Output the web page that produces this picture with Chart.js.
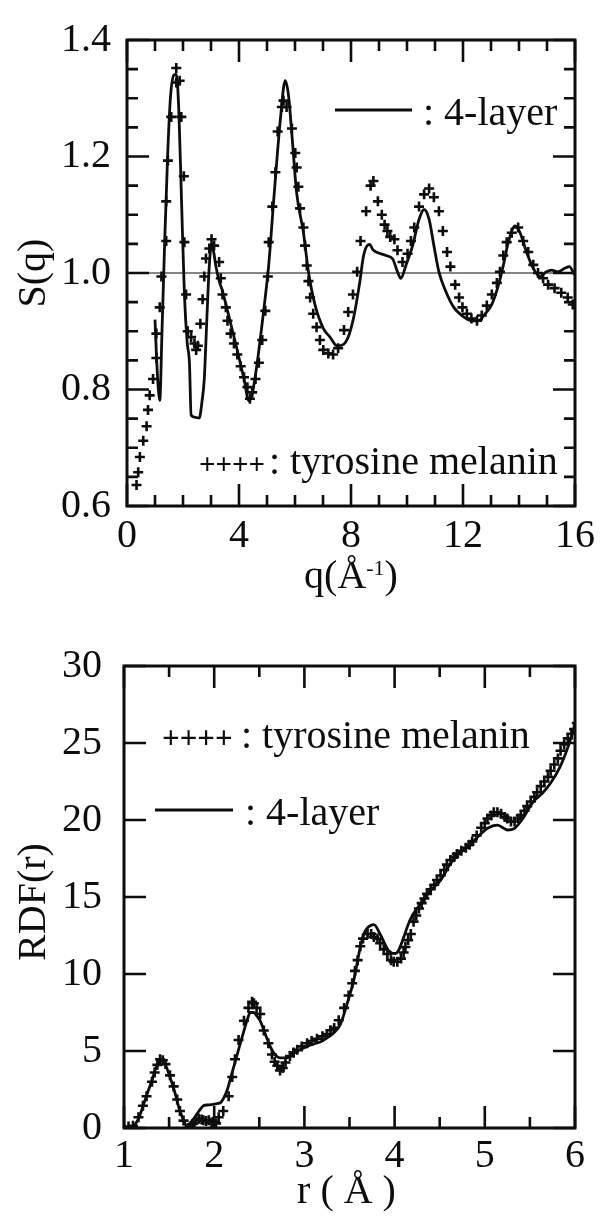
<!DOCTYPE html>
<html>
<head>
<meta charset="utf-8">
<script src="https://cdn.jsdelivr.net/npm/chart.js@4.4.0/dist/chart.umd.min.js"></script>
<style>
  body { margin: 0; background: #fff; }
  canvas { position: absolute; left: 0; }
</style>
</head>
<body>
<canvas id="sqChart" width="601" height="620" style="top:0px"></canvas>
<canvas id="rdfChart" width="601" height="601" style="top:620px"></canvas>
<script>
// ---- S(q) panel ----
// tyrosine melanin (crosses)
var sqMelQ = [0.34,0.40,0.46,0.58,0.70,0.75,0.81,0.93,1.05,1.05,1.17,1.23,1.40,1.40,1.46,1.58,1.76,1.76,1.88,1.94,2.03,2.05,2.11,2.17,2.29,2.41,2.47,2.53,2.62,2.70,2.76,2.82,2.94,3.02,3.11,3.29,3.35,3.41,3.53,3.59,3.70,3.82,3.94,4.06,4.18,4.30,4.39,4.47,4.59,4.71,4.83,4.94,5.03,5.06,5.19,5.30,5.38,5.53,5.59,5.70,5.89,6.01,6.06,6.12,6.18,6.30,6.36,6.42,6.48,6.54,6.65,6.77,6.89,7.01,7.19,7.36,7.54,7.75,7.90,8.07,8.22,8.34,8.54,8.70,8.80,8.96,9.10,9.20,9.30,9.40,9.55,9.66,9.84,10.02,10.14,10.26,10.43,10.61,10.79,10.96,11.14,11.28,11.43,11.55,11.72,11.86,11.98,12.14,12.30,12.50,12.67,12.85,13.03,13.21,13.32,13.44,13.56,13.74,13.97,14.15,14.33,14.51,14.68,14.86,15.04,15.27,15.51,15.74,15.92];
var sqMelS = [0.636,0.658,0.684,0.712,0.737,0.765,0.790,0.818,0.854,0.896,0.941,0.994,1.055,1.123,1.193,1.268,1.327,1.352,1.330,1.268,1.166,1.053,0.963,0.900,0.890,0.879,0.868,0.875,0.913,0.955,0.994,1.025,1.042,1.058,1.047,1.019,0.991,0.963,0.941,0.918,0.896,0.879,0.860,0.840,0.821,0.804,0.784,0.795,0.818,0.846,0.885,0.935,0.994,1.053,1.114,1.173,1.243,1.285,1.296,1.285,1.248,1.206,1.181,1.148,1.111,1.078,1.047,1.013,0.986,0.958,0.930,0.907,0.885,0.868,0.862,0.860,0.871,0.902,0.933,0.963,1.002,1.055,1.106,1.150,1.158,1.123,1.100,1.083,1.072,1.062,1.058,1.039,1.019,1.033,1.055,1.078,1.114,1.135,1.145,1.130,1.106,1.072,1.036,1.011,0.980,0.958,0.941,0.930,0.922,0.918,0.927,0.944,0.963,0.983,1.002,1.030,1.053,1.069,1.078,1.055,1.036,1.014,1.000,0.991,0.980,0.974,0.966,0.958,0.946];
// 4-layer model (solid line)
var sqLayQ = [1.00,1.05,1.12,1.17,1.25,1.35,1.45,1.55,1.68,1.76,1.85,1.95,2.05,2.15,2.23,2.29,2.45,2.58,2.68,2.76,2.86,2.94,3.02,3.10,3.17,3.30,3.41,3.59,3.88,4.18,4.35,4.47,4.65,4.88,5.06,5.24,5.48,5.65,5.77,5.89,6.06,6.30,6.48,6.71,7.01,7.25,7.50,7.72,7.90,8.10,8.30,8.45,8.60,8.67,8.78,8.90,9.25,9.49,9.66,9.78,9.96,10.20,10.43,10.61,10.79,10.96,11.14,11.38,11.67,11.96,12.32,12.55,12.79,13.03,13.27,13.44,13.62,13.86,14.03,14.27,14.51,14.74,14.98,15.16,15.39,15.63,15.80,15.98];
var sqLayS = [0.920,0.860,0.800,0.781,0.900,1.060,1.200,1.300,1.340,1.341,1.280,1.120,0.963,0.880,0.846,0.756,0.752,0.751,0.780,0.818,0.931,1.013,1.050,1.035,1.013,0.985,0.969,0.935,0.879,0.818,0.781,0.792,0.846,0.935,1.013,1.125,1.265,1.330,1.304,1.237,1.137,1.070,1.002,0.946,0.905,0.890,0.875,0.877,0.890,0.925,0.980,1.030,1.048,1.049,1.040,1.036,1.030,1.024,1.002,0.991,1.013,1.047,1.092,1.109,1.092,1.047,1.002,0.969,0.941,0.927,0.918,0.918,0.930,0.946,0.980,1.013,1.053,1.081,1.070,1.036,1.008,0.994,1.002,1.005,1.002,1.008,1.011,0.997];
var sqRefQ = [0, 16];
var sqRefS = [1.0, 1.0];
var sqTicksX = [0, 4, 8, 12, 16];
var sqTicksY = [0.6, 0.8, 1.0, 1.2, 1.4];

// ---- RDF(r) panel ----
var rdfMelR = [1.00,1.05,1.10,1.16,1.21,1.25,1.31,1.34,1.37,1.40,1.43,1.46,1.51,1.55,1.59,1.62,1.66,1.71,1.74,1.77,1.80,1.83,1.86,1.88,1.91,1.94,1.97,1.99,2.02,2.05,2.10,2.16,2.20,2.23,2.27,2.33,2.38,2.42,2.44,2.47,2.51,2.55,2.60,2.64,2.67,2.70,2.73,2.76,2.79,2.84,2.88,2.92,2.97,3.03,3.08,3.14,3.20,3.25,3.29,3.33,3.38,3.44,3.49,3.53,3.56,3.59,3.62,3.65,3.70,3.74,3.77,3.81,3.84,3.88,3.92,3.96,3.99,4.03,4.07,4.10,4.12,4.15,4.18,4.21,4.24,4.27,4.30,4.33,4.36,4.40,4.44,4.47,4.51,4.55,4.58,4.62,4.66,4.69,4.74,4.79,4.83,4.86,4.91,4.96,5.00,5.03,5.07,5.10,5.14,5.18,5.22,5.25,5.29,5.33,5.37,5.40,5.44,5.47,5.51,5.55,5.58,5.62,5.66,5.70,5.73,5.77,5.81,5.84,5.88,5.92,5.96,5.99,6.02];
var rdfMelV = [0.05,0.10,0.15,0.70,1.44,2.06,3.00,3.60,4.10,4.46,4.40,4.15,3.42,2.70,1.85,1.10,0.48,0.00,0.15,0.29,0.50,0.60,0.55,0.50,0.45,0.50,0.35,0.40,0.30,0.70,1.10,2.06,3.31,4.46,5.71,6.96,7.80,8.20,8.10,7.80,7.40,6.33,5.50,4.77,4.30,4.04,3.73,3.90,4.25,4.67,4.90,5.08,5.30,5.50,5.65,5.80,5.95,6.10,6.35,6.50,7.00,7.80,8.60,9.40,10.2,10.9,11.8,12.3,12.6,12.6,12.4,12.3,12.0,11.6,11.3,10.9,10.8,10.8,11.0,11.4,11.75,12.2,12.6,13.4,13.8,14.25,14.6,14.9,15.2,15.5,15.8,16.1,16.4,16.75,17.1,17.4,17.6,17.8,18.0,18.2,18.4,18.6,19.0,19.5,19.8,20.1,20.3,20.5,20.5,20.4,20.2,20.1,19.9,19.9,20.1,20.3,20.6,20.9,21.2,21.5,21.8,22.2,22.5,22.8,23.2,23.6,24.0,24.5,24.9,25.3,25.6,25.9,26.3];
var rdfLayR = [1.00,1.10,1.16,1.21,1.25,1.31,1.36,1.41,1.46,1.51,1.56,1.61,1.66,1.71,1.76,1.81,1.85,1.88,1.94,1.99,2.04,2.07,2.14,2.18,2.23,2.28,2.33,2.37,2.40,2.44,2.47,2.51,2.56,2.62,2.67,2.73,2.81,2.86,2.92,3.03,3.10,3.18,3.25,3.33,3.40,3.47,3.55,3.62,3.66,3.70,3.77,3.84,3.93,4.01,4.05,4.10,4.15,4.20,4.29,4.38,4.51,4.62,4.69,4.80,4.91,5.03,5.14,5.20,5.25,5.33,5.42,5.53,5.64,5.73,5.83,5.92,5.99,6.02];
var rdfLayV = [0.00,0.10,0.60,1.40,2.10,3.10,4.00,4.40,4.10,3.30,2.40,1.30,0.50,0.00,0.50,0.92,1.25,1.44,1.50,1.54,1.60,1.65,2.40,3.20,4.25,5.30,6.33,7.10,7.50,7.50,7.30,6.96,6.20,5.30,4.80,4.56,4.56,4.80,4.98,5.30,5.45,5.60,5.85,6.20,6.75,8.00,9.67,11.75,12.6,13.0,13.2,12.58,11.54,11.33,11.6,12.37,13.2,13.83,14.56,15.3,16.1,17.17,17.7,18.2,18.83,19.46,19.67,19.5,19.35,19.46,20.08,21.13,21.75,22.4,23.4,24.7,26.0,26.5];
var rdfTicksX = [1, 2, 3, 4, 5, 6];
var rdfTicksY = [0, 5, 10, 15, 20, 25, 30];

var INK = '#0d0d0d';
var SERIF = "'Liberation Serif', 'Times New Roman', serif";

function pts(xs, ys) {
  return xs.map(function (x, i) { return { x: x, y: ys[i] }; });
}

// frame plus inward tick marks on all four sides
function frameTicks(xMarks, xMajor, yMarks, yMajor) {
  return {
    id: 'frameTicks',
    afterDatasetsDraw: function (chart) {
      var ctx = chart.ctx, a = chart.chartArea;
      var xs = chart.scales.x, ys = chart.scales.y;
      ctx.save();
      ctx.strokeStyle = INK;
      ctx.lineWidth = 3;
      ctx.strokeRect(a.left, a.top, a.right - a.left, a.bottom - a.top);
      ctx.lineWidth = 2.6;
      ctx.beginPath();
      xMarks.forEach(function (v) {
        var len = xMajor.indexOf(v) >= 0 ? 22 : 11;
        var px = xs.getPixelForValue(v);
        ctx.moveTo(px, a.bottom); ctx.lineTo(px, a.bottom - len);
        ctx.moveTo(px, a.top); ctx.lineTo(px, a.top + len);
      });
      yMarks.forEach(function (v) {
        var len = yMajor.indexOf(v) >= 0 ? 22 : 11;
        var py = ys.getPixelForValue(v);
        ctx.moveTo(a.left, py); ctx.lineTo(a.left + len, py);
        ctx.moveTo(a.right, py); ctx.lineTo(a.right - len, py);
      });
      ctx.stroke();
      ctx.restore();
    }
  };
}

function font(size, weight) { return (weight || '') + ' ' + size + 'px ' + SERIF; }

function yTitle(ctx, text, x, y) {
  ctx.save();
  ctx.translate(x, y);
  ctx.rotate(-Math.PI / 2);
  ctx.font = font(40);
  ctx.textAlign = 'center';
  ctx.textBaseline = 'alphabetic';
  ctx.fillText(text, 0, 0);
  ctx.restore();
}

var sqText = {
  id: 'sqText',
  afterDraw: function (chart) {
    var ctx = chart.ctx, a = chart.chartArea;
    ctx.save();
    ctx.fillStyle = INK;
    ctx.strokeStyle = INK;
    // legend: 4-layer
    ctx.lineWidth = 2.8;
    ctx.beginPath();
    ctx.moveTo(a.left + 208, a.top + 70);
    ctx.lineTo(a.left + 285, a.top + 70);
    ctx.stroke();
    ctx.font = font(40);
    ctx.textBaseline = 'alphabetic';
    ctx.textAlign = 'left';
    ctx.fillText(': 4-layer', a.left + 296, a.top + 85);
    // legend: tyrosine melanin
    ctx.font = font(29, 'bold');
    ctx.fillText('++++', a.left + 72, a.bottom - 32);
    ctx.font = font(40);
    ctx.fillText(': tyrosine melanin', a.left + 142, a.bottom - 32);
    // y title
    yTitle(ctx, 'S(q)', 45, (a.top + a.bottom) / 2);
    // x title q(Å^-1)
    var cx = (a.left + a.right) / 2, by = a.bottom + 82;
    ctx.font = font(40);
    var w1 = ctx.measureText('q(Å').width;
    var w3 = ctx.measureText(')').width;
    ctx.font = font(22);
    var w2 = ctx.measureText('-1').width;
    var x0 = cx - (w1 + w2 + w3) / 2;
    ctx.font = font(40);
    ctx.fillText('q(Å', x0, by);
    ctx.font = font(22);
    ctx.fillText('-1', x0 + w1, by - 13);
    ctx.font = font(40);
    ctx.fillText(')', x0 + w1 + w2, by);
    ctx.restore();
  }
};

var rdfText = {
  id: 'rdfText',
  afterDraw: function (chart) {
    var ctx = chart.ctx, a = chart.chartArea;
    ctx.save();
    ctx.fillStyle = INK;
    ctx.strokeStyle = INK;
    ctx.textBaseline = 'alphabetic';
    ctx.textAlign = 'left';
    ctx.font = font(31, 'bold');
    ctx.fillText('++++', a.left + 38, a.top + 82);
    ctx.font = font(40);
    ctx.fillText(': tyrosine melanin', a.left + 117, a.top + 82);
    ctx.lineWidth = 2.8;
    ctx.beginPath();
    ctx.moveTo(a.left + 31, a.top + 144);
    ctx.lineTo(a.left + 109, a.top + 144);
    ctx.stroke();
    ctx.fillText(': 4-layer', a.left + 121, a.top + 159);
    yTitle(ctx, 'RDF(r)', 45, (a.top + a.bottom) / 2 + 5);
    ctx.textAlign = 'center';
    ctx.fillText('r ( Å )', (a.left + a.right) / 2 - 3, a.bottom + 75);
    ctx.restore();
  }
};

function axisOpts(min, max, tickVals, fmt, isY, fitSize, pad) {
  return {
    type: 'linear',
    min: min,
    max: max,
    grid: { display: false, drawTicks: false },
    border: { display: false },
    afterBuildTicks: function (s) { s.ticks = tickVals.map(function (v) { return { value: v }; }); },
    afterFit: function (s) { if (isY) { s.width = fitSize; } else { s.height = fitSize; } },
    ticks: {
      color: INK,
      padding: pad,
      font: { family: SERIF, size: 40 },
      callback: fmt
    }
  };
}

var crossStyle = {
  showLine: false,
  pointStyle: 'cross',
  pointRadius: 5,
  pointBorderWidth: 2.6,
  borderColor: INK,
  backgroundColor: INK
};

var sqMarks = [], q;
for (q = 0; q <= 16; q++) { sqMarks.push(q); }
var sqYMarks = [];
for (q = 0; q <= 16; q++) { sqYMarks.push(Math.round((0.6 + q * 0.05) * 100) / 100); }

new Chart(document.getElementById('sqChart'), {
  type: 'scatter',
  data: {
    datasets: [
      Object.assign({ label: 'tyrosine melanin', data: pts(sqMelQ, sqMelS) }, crossStyle),
      { label: '4-layer', data: pts(sqLayQ, sqLayS), showLine: true, pointRadius: 0,
        borderColor: INK, borderWidth: 2.8, cubicInterpolationMode: 'monotone' },
      { label: 'S=1', data: pts(sqRefQ, sqRefS), showLine: true, pointRadius: 0,
        borderColor: INK, borderWidth: 1.2 }
    ]
  },
  options: {
    responsive: false,
    animation: false,
    devicePixelRatio: 1,
    layout: { padding: { left: 0, right: 21, top: 28, bottom: 0 } },
    plugins: { legend: { display: false }, tooltip: { enabled: false } },
    scales: {
      x: axisOpts(0, 16, sqTicksX, function (v) { return String(v); }, false, 114, 6),
      y: axisOpts(0.6, 1.4, sqTicksY, function (v) { return v.toFixed(1); }, true, 127, 16)
    }
  },
  plugins: [frameTicks(sqMarks, sqTicksX, sqYMarks, sqTicksY), sqText]
});

var rdfMarks = [];
for (q = 0; q <= 10; q++) { rdfMarks.push(1 + q * 0.5); }

new Chart(document.getElementById('rdfChart'), {
  type: 'scatter',
  data: {
    datasets: [
      Object.assign({ label: 'tyrosine melanin', data: pts(rdfMelR, rdfMelV) }, crossStyle),
      { label: '4-layer', data: pts(rdfLayR, rdfLayV), showLine: true, pointRadius: 0,
        borderColor: INK, borderWidth: 2.8, cubicInterpolationMode: 'monotone' }
    ]
  },
  options: {
    responsive: false,
    animation: false,
    devicePixelRatio: 1,
    layout: { padding: { left: 0, right: 26, top: 28, bottom: 0 } },
    plugins: { legend: { display: false }, tooltip: { enabled: false } },
    scales: {
      x: axisOpts(1, 6, rdfTicksX, function (v) { return String(v); }, false, 93, 4),
      y: axisOpts(0, 30, rdfTicksY, function (v) { return String(v); }, true, 124, 22)
    }
  },
  plugins: [frameTicks(rdfMarks, rdfTicksX, rdfTicksY, rdfTicksY), rdfText]
});
</script>
</body>
</html>
